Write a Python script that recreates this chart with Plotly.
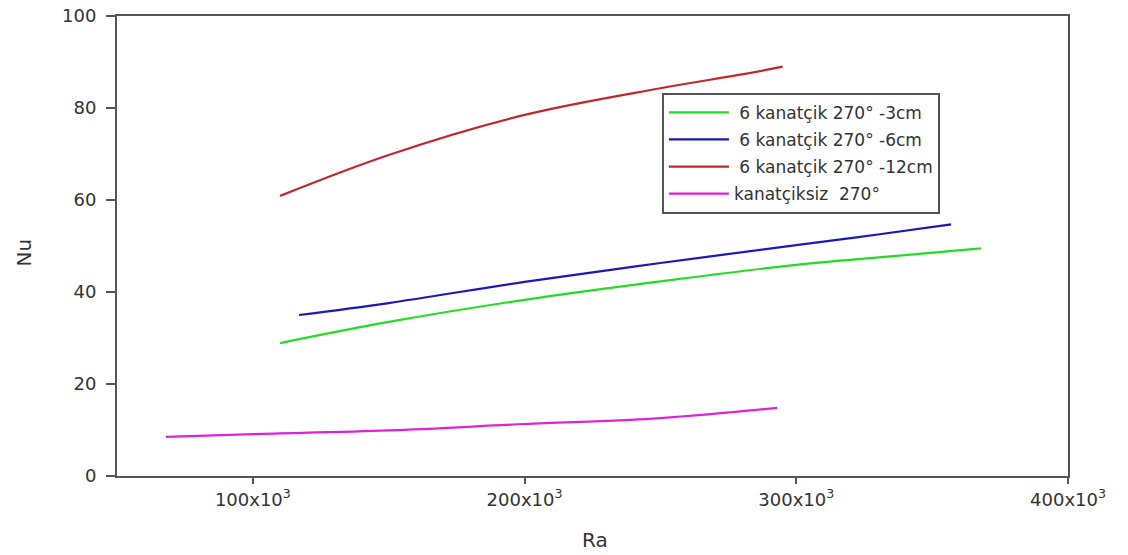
import plotly.graph_objects as go

ra_3cm = [110000, 150000, 200000, 250000, 300000, 340000, 368000]
nu_3cm = [28.9, 33.5, 38.3, 42.3, 45.9, 48.0, 49.5]

ra_6cm = [117000, 150000, 200000, 250000, 300000, 330000, 357000]
nu_6cm = [35.0, 37.6, 42.2, 46.3, 50.2, 52.5, 54.7]

ra_12cm = [110000, 150000, 200000, 250000, 280000, 295000]
nu_12cm = [60.9, 69.8, 78.5, 84.3, 87.3, 89.0]

ra_none = [68000, 100000, 150000, 200000, 250000, 293000]
nu_none = [8.5, 9.1, 9.9, 11.3, 12.6, 14.8]

names = [" 6 kanatçik 270° -3cm", " 6 kanatçik 270° -6cm",
         " 6 kanatçik 270° -12cm", "kanatçiksiz  270°"]
colors = ["#22dd22", "#1a1ab8", "#c0282c", "#dd22dd"]

x_tickvals = [100000, 200000, 300000, 400000]
x_ticktext = ["100x10<sup>3</sup>", "200x10<sup>3</sup>", "300x10<sup>3</sup>", "400x10<sup>3</sup>"]
y_tickvals = [0, 20, 40, 60, 80, 100]

FONT = "DejaVu Sans, Liberation Sans, Arial"

fig = go.Figure()
for i, (xs, ys) in enumerate([(ra_3cm, nu_3cm), (ra_6cm, nu_6cm), (ra_12cm, nu_12cm), (ra_none, nu_none)]):
    fig.add_trace(go.Scatter(x=xs, y=ys, mode="lines", name=names[i],
                             line=dict(color=colors[i], width=2.2, shape="spline"),
                             legendgroup=f"g{i}"))

axis_common = dict(showline=True, linecolor="#555555", linewidth=2, mirror=True,
                   ticks="outside", tickwidth=1.5, tickcolor="#555555",
                   showgrid=False, zeroline=False, automargin=False,
                   tickfont=dict(family=FONT, size=18, color="#333333"))

fig.update_xaxes(range=[50000, 400000], tickvals=x_tickvals, ticktext=x_ticktext,
                 ticklen=6, **axis_common)
fig.update_yaxes(range=[0, 100], tickvals=y_tickvals,
                 ticklen=9, ticklabelstandoff=6, **axis_common)

fig.add_annotation(text="Nu", xref="paper", yref="paper", x=-0.0978, y=0.486,
                   showarrow=False, textangle=-90, xanchor="center", yanchor="middle",
                   font=dict(family=FONT, size=20, color="#333333"))
fig.add_annotation(text="Ra", xref="paper", yref="paper", x=0.5026, y=-0.139,
                   showarrow=False, xanchor="center", yanchor="middle",
                   font=dict(family=FONT, size=20, color="#333333"))

fig.update_layout(
    width=1128, height=555,
    margin=dict(l=117, r=60, t=16, b=79, autoexpand=False),
    paper_bgcolor="white", plot_bgcolor="white",
    font=dict(family=FONT, size=17, color="#333333"),
    legend=dict(x=0.573, y=0.833, xanchor="left", yanchor="top",
                bordercolor="#555555", borderwidth=2, bgcolor="white",
                font=dict(family=FONT, size=17, color="#333333"), tracegroupgap=2,
                itemwidth=60),
)

fig.write_html("out.html")
